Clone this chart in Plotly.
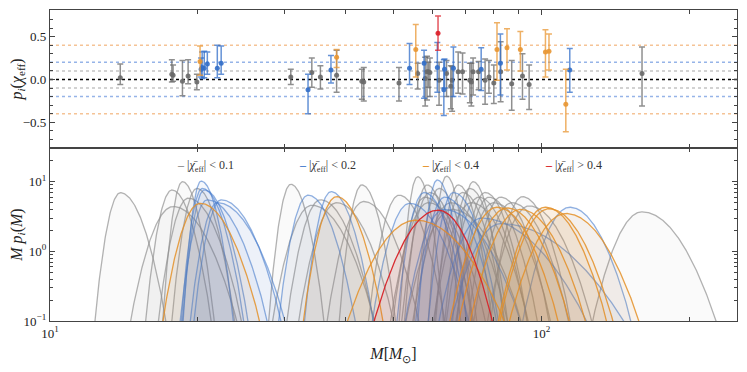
import numpy as np
import plotly.graph_objects as go
from plotly.subplots import make_subplots

# ---------------- data ----------------
mass = [13.9, 17.7, 17.8, 18.6, 19.1, 19.9, 20.2, 20.3, 20.4, 20.6, 20.9, 21.9, 22.3,
        30.9, 33.5, 34.1, 35.5, 37.3, 38.3, 38.3, 43.1, 43.5, 51.3, 53.9, 56.0, 55.5,
        57.7, 58.0, 58.5, 58.9, 59.3, 61.4, 61.6, 61.9, 63.3, 63.5, 64.1, 65.4, 65.8,
        66.2, 67.7, 69.1, 71.5, 72.0, 72.6, 74.5, 75.4, 76.8, 78.2, 80.0, 81.2, 82.5,
        82.6, 85.1, 87.0, 90.6, 91.5, 94.4, 101.9, 103.6, 112.1, 114.2, 160.2]
chi = [0.02, 0.06, 0.05, -0.02, 0.04, -0.03, 0.21, 0.12, 0.14, 0.13, 0.18, 0.13, 0.19,
       0.03, -0.12, 0.08, 0.03, 0.11, 0.05, 0.26, -0.02, -0.03, -0.04, 0.13, 0.07, 0.35,
       0.19, 0.01, 0.09, 0.09, 0.08, 0.14, 0.54, -0.01, -0.12, 0.12, 0.07, -0.08, -0.01,
       0.13, 0.09, 0.09, -0.01, -0.03, 0.09, 0.09, 0.12, -0.01, 0.03, -0.04, 0.35, 0.19,
       0.09, 0.37, -0.05, 0.35, 0.04, -0.06, 0.32, 0.33, -0.29, 0.11, 0.07]
chi_lo = [-0.06, -0.03, -0.02, -0.19, -0.05, -0.12, 0.05, 0.03, 0.01, 0.02, 0.06, 0.02, 0.06,
          -0.06, -0.40, -0.09, -0.11, -0.04, -0.15, 0.14, -0.23, -0.25, -0.25, -0.06, -0.11, 0.03,
          -0.22, -0.31, -0.24, -0.09, -0.20, -0.15, 0.34, -0.30, -0.42, -0.10, -0.20, -0.34, -0.37,
          -0.20, -0.16, -0.17, -0.27, -0.31, -0.18, -0.12, -0.13, -0.29, -0.16, -0.28, -0.01, -0.18,
          -0.26, 0.11, -0.36, 0.10, -0.23, -0.35, 0.03, 0.11, -0.61, -0.15, -0.31]
chi_hi = [0.18, 0.23, 0.17, 0.22, 0.23, 0.06, 0.39, 0.25, 0.32, 0.33, 0.32, 0.40, 0.39,
          0.12, 0.06, 0.25, 0.16, 0.28, 0.34, 0.35, 0.12, 0.14, 0.14, 0.42, 0.19, 0.64,
          0.34, 0.26, 0.27, 0.20, 0.25, 0.43, 0.74, 0.20, 0.23, 0.24, 0.22, 0.16, 0.15,
          0.38, 0.32, 0.31, 0.19, 0.19, 0.25, 0.21, 0.37, 0.24, 0.22, 0.17, 0.66, 0.53,
          0.44, 0.59, 0.22, 0.56, 0.30, 0.17, 0.58, 0.53, 0.12, 0.36, 0.38]
# peak height of M p(M) and right/left width ratio of each mass posterior
peak = [6.95, 7.6, 4.4, 10.0, 5.8, 8.0, 4.9, 10.2, 8.0, 7.6, 5.5, 5.0, 5.5,
        9.2, 6.4, 4.6, 5.5, 7.2, 5.0, 6.1, 9.0, 5.2, 6.4, 4.9, 11.8, 2.8,
        7.0, 6.0, 9.0, 5.0, 7.0, 10.6, 3.9, 8.0, 4.0, 6.0, 12.0, 5.0, 4.0,
        7.0, 9.0, 7.0, 8.0, 5.0, 10.0, 6.0, 3.0, 7.0, 6.0, 5.0, 4.3, 2.5,
        6.0, 4.2, 5.0, 4.0, 6.1, 4.5, 4.3, 4.1, 3.5, 4.3, 3.7]
skew = [1.8, 1.5, 1.5, 1.6, 1.8, 1.5, 1.6, 1.8, 2.0, 2.0, 2.2, 2.5, 2.2,
        1.5, 1.6, 1.6, 1.6, 1.6, 1.5, 1.4, 1.5, 1.5, 1.5, 1.6, 1.4, 1.3,
        1.6, 1.5, 1.5, 1.5, 1.5, 1.5, 0.85, 1.5, 2.0, 1.8, 1.4, 1.5, 1.5,
        1.8, 1.5, 1.5, 1.5, 1.5, 1.5, 1.5, 2.5, 1.5, 1.5, 1.5, 1.3, 2.5,
        1.5, 1.3, 1.5, 1.3, 1.5, 1.5, 1.3, 1.3, 1.3, 1.3, 1.5]

thresholds = [0.1, 0.2, 0.4]
ref_levels = [0.1, 0.2, 0.4]
x_tick_vals = [10, 100]
x_tick_text = ["10<sup>1</sup>", "10<sup>2</sup>"]
x_minor_vals = [20, 30, 40, 50, 60, 70, 80, 90, 200]
y1_tick_vals = [-0.5, 0.0, 0.5]
y1_tick_text = ["\u22120.5", "0.0", "0.5"]
y2_tick_vals = [0.1, 1, 10]
y2_tick_text = ["10<sup>\u22121</sup>", "10<sup>0</sup>", "10<sup>1</sup>"]

# ---------------- styles ----------------
line_rgb = [(145, 145, 145), (72, 125, 205), (228, 145, 40), (215, 35, 40)]
point_rgb = [(105, 105, 105), (50, 110, 200), (232, 150, 50), (220, 30, 40)]
ref_rgb = [(195, 195, 195), (150, 180, 232), (245, 195, 150)]
fill_alpha = [0.045, 0.05, 0.07, 0.08]
line_alpha = [0.7, 0.6, 0.85, 0.95]


def rgba(c, a):
    return "rgba(%d,%d,%d,%.3f)" % (c[0], c[1], c[2], a)


def category(c):
    a = abs(c)
    for i, t in enumerate(thresholds):
        if a < t:
            return i
    return 3


cats = [category(c) for c in chi]

fig = make_subplots(rows=2, cols=1, shared_xaxes=True, vertical_spacing=0,
                    row_heights=[0.444, 0.556])

# ---------------- bottom panel: mass posteriors ----------------
grid = np.logspace(1, np.log10(250), 1500)
lnM = np.log(grid)
for cat in range(4):
    for i in range(len(mass)):
        if cats[i] != cat:
            continue
        s_avg = 1.0 / (np.sqrt(2 * np.pi) * peak[i])
        sL = 2 * s_avg / (1 + skew[i])
        sR = skew[i] * sL
        d = lnM - np.log(mass[i])
        s = np.where(d < 0, sL, sR)
        y = peak[i] * np.exp(-0.5 * (d / s) ** 2)
        keep = y > 0.02
        xs = grid[keep]
        ys = y[keep]
        xp = np.concatenate([[xs[0]], xs, [xs[-1]]])
        yp = np.concatenate([[0.01], ys, [0.01]])
        fig.add_trace(go.Scatter(
            x=xp, y=yp, mode="lines", fill="toself",
            fillcolor=rgba(line_rgb[cat], fill_alpha[cat]),
            line=dict(color=rgba(line_rgb[cat], line_alpha[cat]), width=1.3),
            hoverinfo="skip", showlegend=False), row=2, col=1)

# ---------------- top panel: chi_eff error bars ----------------
for cat in range(4):
    idx = [i for i in range(len(mass)) if cats[i] == cat]
    xm = [mass[i] for i in idx]
    ym = [chi[i] for i in idx]
    up = [chi_hi[i] - chi[i] for i in idx]
    dn = [chi[i] - chi_lo[i] for i in idx]
    fig.add_trace(go.Scatter(
        x=xm, y=ym, mode="markers",
        marker=dict(size=5, color=rgba(point_rgb[cat], 0.9)),
        error_y=dict(type="data", symmetric=False, array=up, arrayminus=dn,
                     color=rgba(point_rgb[cat], 0.75), thickness=1.5, width=3),
        hoverinfo="skip", showlegend=False), row=1, col=1)

for lvl, c in zip(ref_levels, ref_rgb):
    for sgn in (1, -1):
        fig.add_hline(y=sgn * lvl, line=dict(color=rgba(c, 1), dash="dot", width=1.5),
                      layer="below", row=1, col=1, exclude_empty_subplots=False)
fig.add_hline(y=0, line=dict(color="black", dash="dot", width=1.5), layer="below",
              row=1, col=1, exclude_empty_subplots=False)

# ---------------- legend (as annotations) ----------------
labels = ["&lt; %g" % thresholds[0], "&lt; %g" % thresholds[1],
          "&lt; %g" % thresholds[2], "&gt; %g" % thresholds[2]]
leg_x = [0.182, 0.3595, 0.5386, 0.7176]
for k in range(4):
    fig.add_annotation(
        xref="paper", yref="paper", x=leg_x[k], y=0.5, xanchor="left", yanchor="middle",
        showarrow=False,
        text='<b><span style="color:%s">\u2013</span></b> |<i>\u03c7\u0304</i><sub>eff</sub>| %s'
             % (rgba(line_rgb[k], 1), labels[k]),
        font=dict(size=12, color="#333"))

# ---------------- axes ----------------
axis_common = dict(showgrid=False, zeroline=False, showline=True, linecolor="#444",
                   linewidth=1.2, mirror="allticks", ticks="inside", ticklen=5,
                   tickcolor="#444", tickwidth=1, automargin=False)
xr = [1, np.log10(250)]
fig.update_xaxes(type="log", range=xr, tickmode="array", tickvals=x_tick_vals,
                 ticktext=x_tick_text,
                 minor=dict(tickmode="array", tickvals=x_minor_vals, ticks="inside",
                            ticklen=4, tickcolor="#444"),
                 **axis_common)
fig.update_xaxes(showticklabels=False, row=1, col=1)
fig.update_xaxes(title=dict(text="<i>M</i>[<i>M</i><sub>\u2299</sub>]", standoff=8),
                 row=2, col=1)

fig.update_yaxes(range=[-0.8, 0.81], tickmode="array", tickvals=y1_tick_vals,
                 ticktext=y1_tick_text,
                 minor=dict(dtick=0.1, tick0=0, ticks="inside", ticklen=3, tickcolor="#444"),
                 title=dict(text="<i>p<sub>i</sub></i>(<i>\u03c7</i><sub>eff</sub>)", standoff=4),
                 row=1, col=1, **axis_common)
y2_minor = [m * 10.0 ** e for e in (-1, 0, 1) for m in range(2, 10) if m * 10.0 ** e < 30.5]
fig.update_yaxes(type="log", range=[-1, 1.483], tickmode="array", tickvals=y2_tick_vals,
                 ticktext=y2_tick_text,
                 minor=dict(tickmode="array", tickvals=y2_minor, ticks="inside", ticklen=3,
                            tickcolor="#444"),
                 title=dict(text="<i>M p<sub>i</sub></i>(<i>M</i>)", standoff=4),
                 row=2, col=1, **axis_common)

# the page body adds an 8 px offset, so the figure is sized and margined to compensate
fig.update_layout(
    width=739, height=364,
    margin=dict(l=42, r=10, t=2, b=51),
    paper_bgcolor="white", plot_bgcolor="white",
    font=dict(family="Liberation Serif", size=13, color="#222"),
    showlegend=False,
)

fig.write_html("out.html")
